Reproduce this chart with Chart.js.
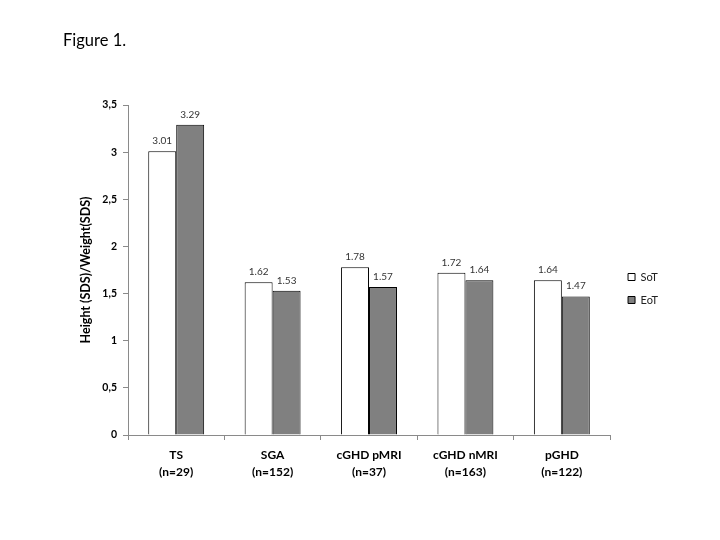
<!DOCTYPE html>
<html>
<head>
<meta charset="utf-8">
<script src="https://cdn.jsdelivr.net/npm/chart.js@4"></script>
<style>
  body { margin: 0; background: #fff; }
  #wrap { position: relative; width: 720px; height: 540px; }
  #fig { position: absolute; left: 63px; top: 30px; font: 16.5px Lato, sans-serif; color: #000; }
  canvas { position: absolute; left: 0; top: 0; }
</style>
</head>
<body>
<div id="wrap">
  <canvas id="chart" width="720" height="540"></canvas>
  <div id="fig">Figure 1.</div>
</div>
<script>
// ================================
// DATA
// ================================
const groups = [["TS", "(n=29)"], ["SGA", "(n=152)"], ["cGHD pMRI", "(n=37)"], ["cGHD nMRI", "(n=163)"], ["pGHD", "(n=122)"]];
const sotValues = [3.01, 1.62, 1.78, 1.72, 1.64];
const eotValues = [3.29, 1.53, 1.57, 1.64, 1.47];
const yTicks = [0, 0.5, 1, 1.5, 2, 2.5, 3, 3.5];

const axisGrey = "#8a8a8a";
const font = "Lato, sans-serif";

// value labels above each bar
const barValues = {
  id: "barValues",
  afterDatasetsDraw(chart) {
    const ctx = chart.ctx;
    ctx.save();
    ctx.font = "10px " + font;
    ctx.fillStyle = "#333";
    ctx.textAlign = "center";
    ctx.textBaseline = "alphabetic";
    chart.data.datasets.forEach((ds, i) => {
      chart.getDatasetMeta(i).data.forEach((bar, j) => {
        ctx.fillText(ds.data[j].toFixed(2), bar.x, bar.y - 7);
      });
    });
    ctx.restore();
  }
};

new Chart(document.getElementById("chart"), {
  type: "bar",
  data: {
    labels: groups,
    datasets: [
      {
        label: "SoT",
        data: sotValues,
        backgroundColor: "#ffffff",
        borderColor: "#000000",
        borderWidth: 1,
        categoryPercentage: 0.58,
        barPercentage: 1
      },
      {
        label: "EoT",
        data: eotValues,
        backgroundColor: "#808080",
        borderColor: "#000000",
        borderWidth: 1,
        categoryPercentage: 0.58,
        barPercentage: 1
      }
    ]
  },
  plugins: [barValues],
  options: {
    responsive: false,
    animation: false,
    layout: { padding: { left: 74, top: 105, right: 52, bottom: 45 } },
    plugins: {
      title: { display: false },
      tooltip: { enabled: false },
      legend: {
        position: "right",
        fullSize: false,
        // empty title only used to push the two items down
        title: { display: true, text: "", padding: { top: 0, bottom: 25 }, font: { size: 10, lineHeight: 1.2 } },
        labels: {
          boxWidth: 7,
          boxHeight: 7,
          padding: 12,
          color: "#222",
          font: { family: font, size: 11 }
        }
      }
    },
    scales: {
      x: {
        grid: { drawOnChartArea: false, color: axisGrey, tickLength: 5 },
        border: { color: axisGrey },
        ticks: { color: "#000", padding: 6, maxRotation: 0, font: { family: font, size: 12, weight: "bold", lineHeight: 1.45 } },
        afterFit(scale) { scale.height = 60; }
      },
      y: {
        min: 0,
        max: 3.5,
        afterBuildTicks(scale) { scale.ticks = yTicks.map(v => ({ value: v })); },
        grid: { drawOnChartArea: false, color: axisGrey, tickLength: 5 },
        border: { color: axisGrey },
        ticks: {
          color: "#000",
          padding: 6,
          font: { family: font, size: 10.5, weight: "bold" },
          callback: v => String(v).replace(".", ",")
        },
        title: {
          display: true,
          text: "Height (SDS)/Weight(SDS)",
          color: "#000",
          font: { family: font, size: 12.5, weight: "bold" }
        },
        afterFit(scale) { scale.width = 54; }
      },
      spacer: {
        type: "linear",
        position: "right",
        grid: { display: false },
        border: { display: false },
        ticks: { display: false },
        afterFit(scale) { scale.width = 6; }
      }
    }
  }
});
</script>
</body>
</html>
